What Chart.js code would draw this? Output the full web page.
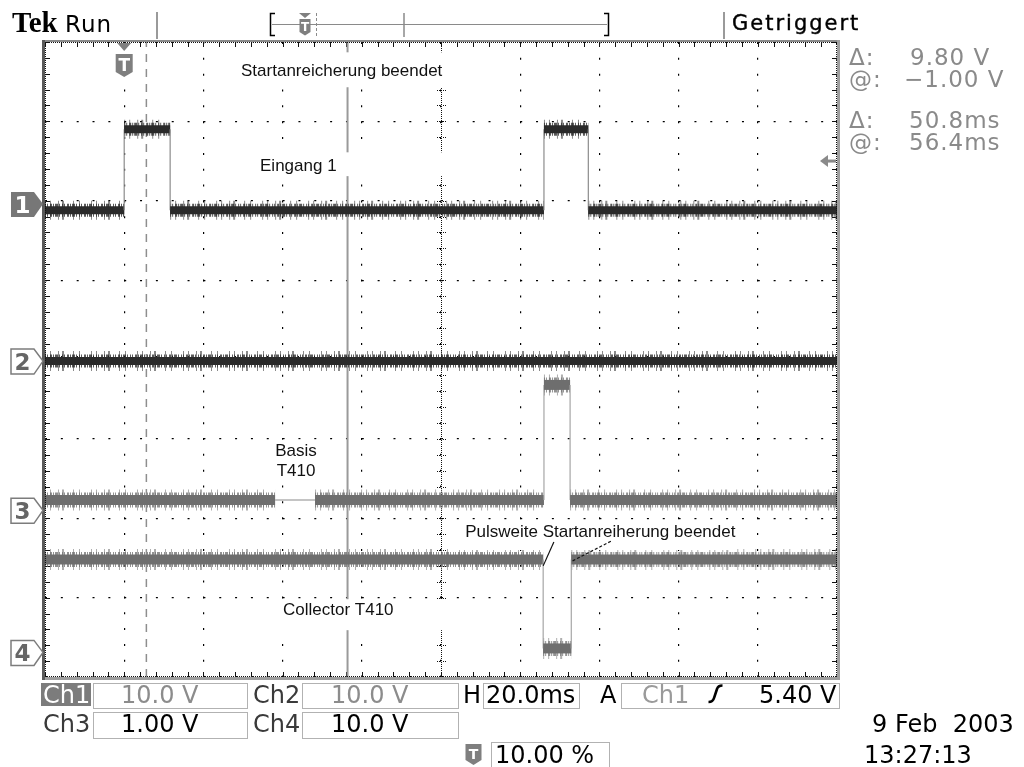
<!DOCTYPE html>
<html>
<head>
<meta charset="utf-8">
<title>Tek Run – Startanreicherung</title>
<script src="https://cdn.jsdelivr.net/npm/chart.js@4.4.1/dist/chart.umd.min.js"></script>
<style>
  html, body { margin: 0; padding: 0; background: #fff; }
  #wrap { position: relative; width: 1024px; height: 767px; overflow: hidden; background: #fff; }
  #scope, #panel { position: absolute; left: 0; top: 0; }
  #panel { pointer-events: none; }
  #panel text { white-space: pre; }
</style>
</head>
<body>
<div id="wrap">
  <canvas id="scope" width="1024" height="767"></canvas>
  <svg id="panel" width="1024" height="767" xmlns="http://www.w3.org/2000/svg">
    <!-- status line -->
    <text x="12" y="32" font-family="Liberation Serif" font-weight="bold" font-size="29" fill="#000">Tek</text>
    <text x="65" y="32" font-family="DejaVu Sans" font-size="23" letter-spacing="1" fill="#000">Run</text>
    <line x1="157" y1="12" x2="157" y2="39" stroke="#9a9a9a" stroke-width="2"/>
    <!-- record view -->
    <line x1="272" y1="24.5" x2="607" y2="24.5" stroke="#8a8a8a" stroke-width="1"/>
    <path d="M275 13.5 H270.5 V35.5 H275" fill="none" stroke="#000" stroke-width="1.5"/>
    <path d="M604 13.5 H608.5 V35.5 H604" fill="none" stroke="#000" stroke-width="1.5"/>
    <line x1="404" y1="13" x2="404" y2="37" stroke="#8a8a8a" stroke-width="1.5"/>
    <line x1="316.5" y1="13" x2="316.5" y2="36" stroke="#8a8a8a" stroke-width="1" stroke-dasharray="3,2"/>
    <path d="M299 13 H311 L305 18 Z" fill="#7f7f7f"/>
    <path d="M299.5 19 H310.5 V32 L305 35.5 L299.5 32 Z" fill="#7f7f7f"/>
    <text x="305" y="31" font-family="DejaVu Sans" font-weight="bold" font-size="12" text-anchor="middle" fill="#fff">T</text>
    <line x1="724" y1="12" x2="724" y2="39" stroke="#9a9a9a" stroke-width="2"/>
    <text x="732" y="30" font-family="DejaVu Sans" font-size="21" letter-spacing="2" fill="#000" stroke="#000" stroke-width="0.4">Getriggert</text>

    <!-- cursor readouts -->
    <g font-family="DejaVu Sans" font-size="23" letter-spacing="1" fill="#8a8a8a">
      <text x="849" y="65">Δ:</text><text x="910" y="65">9.80 V</text>
      <text x="849" y="87">@:</text><text x="904" y="87">−1.00 V</text>
      <text x="849" y="128">Δ:</text><text x="909" y="128">50.8ms</text>
      <text x="849" y="150">@:</text><text x="909" y="150">56.4ms</text>
    </g>

    <!-- channel / timebase settings -->
    <g fill="none" stroke="#b2b2b2" stroke-width="1">
      <rect x="93.5" y="683.5" width="154" height="25"/>
      <rect x="302.5" y="683.5" width="156" height="25"/>
      <rect x="483.5" y="683.5" width="96" height="25"/>
      <rect x="621.5" y="683.5" width="218" height="25"/>
      <rect x="93.5" y="712.5" width="154" height="26"/>
      <rect x="302.5" y="712.5" width="156" height="26"/>
      <rect x="491.5" y="742.5" width="118" height="26"/>
    </g>
    <rect x="41" y="683" width="50" height="23" fill="#7c7c7c"/>
    <g font-family="DejaVu Sans" font-size="24">
      <text x="43" y="703" fill="#fff">Ch1</text>
      <text x="121" y="703" fill="#8c8c8c">10.0 V</text>
      <text x="253" y="703" fill="#3a3a3a">Ch2</text>
      <text x="331" y="703" fill="#8c8c8c">10.0 V</text>
      <text x="463" y="703" fill="#000">H</text>
      <text x="486" y="703" fill="#000">20.0ms</text>
      <text x="600" y="703" fill="#000">A</text>
      <text x="642" y="703" fill="#9a9a9a">Ch1</text>
      <text x="759" y="703" fill="#000">5.40 V</text>
      <text x="43" y="732" fill="#3a3a3a">Ch3</text>
      <text x="121" y="732" fill="#000">1.00 V</text>
      <text x="253" y="732" fill="#3a3a3a">Ch4</text>
      <text x="331" y="732" fill="#000">10.0 V</text>
      <text x="495" y="763" fill="#000">10.00 %</text>
      <text x="872" y="732" fill="#000">9 Feb  2003</text>
      <text x="864" y="763" fill="#000">13:27:13</text>
    </g>
    <!-- rising-edge slope symbol -->
    <path d="M708.5 702 Q713 702 714 698 L717 689 Q718 685.5 722.5 685.5" fill="none" stroke="#000" stroke-width="2.6"/>
    <!-- trigger position icon -->
    <path d="M465.5 744 H481.5 V760 L473.5 765 L465.5 760 Z" fill="#7f7f7f"/>
    <text x="473.5" y="759" font-family="DejaVu Sans" font-weight="bold" font-size="14" text-anchor="middle" fill="#fff">T</text>
  </svg>
</div>

<script>
// Time base: 20 ms/div, 10 divisions, trigger at 10 % of the record
const timeRange = [-20, 180];          // ms
const divRange = [-4, 4];              // vertical divisions

// Channel settings
const channelNames = ['1', '2', '3', '4'];
const voltsPerDiv = [10, 10, 1, 10];   // V/div
const groundDiv = [1.96, -0.02, -1.90, -3.69]; // ground marker positions, div

// Ch1 – Eingang 1 (step trace, ms / V)
const ch1Time = [-20, 0.0, 0.0, 11.6, 11.6, 106.0, 106.0, 117.2, 117.2, 180];
const ch1Volt = [-0.8, -0.8, 9.4, 9.4, -0.8, -0.8, 9.4, 9.4, -0.8, -0.8];

// Ch2 – flat
const ch2Time = [-20, 180];
const ch2Volt = [0.0, 0.0];

// Ch3 – Basis T410
const ch3Time = [-20, 38.1, 48.2, 106.0, 106.0, 112.6, 112.6, 180];
const ch3Volt = [0.13, 0.13, 0.13, 0.13, 1.58, 1.58, 0.13, 0.13];
const ch3Quiet = [38.1, 48.2];         // stretch drawn without noise

// Ch4 – Collector T410
const ch4Time = [-20, 105.8, 105.8, 112.9, 112.9, 180];
const ch4Volt = [11.7, 11.7, 0.5, 0.5, 11.7, 11.7];

// Time cursors (ms) and trigger level (V on Ch1)
const cursorTimes = [5.6, 56.4];
const triggerLevel = 5.4;

// Trace inks: core band, fuzzy hairs, sparse spikes, thin edges
const traceInk = [
  { core: '#2a2a2a', fuzz: 'rgba(35,35,35,0.75)', spike: 'rgba(60,60,60,0.6)', edge: '#8c8c8c', wCore: 8, wFuzz: 13, wSpike: 19 },
  { core: '#2a2a2a', fuzz: 'rgba(35,35,35,0.75)', spike: 'rgba(60,60,60,0.6)', edge: '#8c8c8c', wCore: 8, wFuzz: 13, wSpike: 20 },
  { core: '#6e6e6e', fuzz: 'rgba(110,110,110,0.75)', spike: 'rgba(120,120,120,0.6)', edge: '#a6a6a6', wCore: 10, wFuzz: 15, wSpike: 21 },
  { core: '#6e6e6e', fuzz: 'rgba(110,110,110,0.75)', spike: 'rgba(120,120,120,0.6)', edge: '#a6a6a6', wCore: 10, wFuzz: 15, wSpike: 21 }
];
const fuzzDash = [1, 1, 1, 2, 2, 1, 1, 1, 3, 1, 1, 2];
const spikeDash = [1, 4, 1, 7, 1, 3, 2, 9, 1, 5, 1, 11];

function traceLayers(ch, times, volts, quietSpan) {
  const ink = traceInk[ch];
  const isEdge = c => c.p0.parsed.x === c.p1.parsed.x;
  const isQuiet = c => !!quietSpan && c.p0.parsed.x >= quietSpan[0] && c.p1.parsed.x <= quietSpan[1];
  const layers = [
    { color: ink.core, width: ink.wCore, dash: [], order: 0, edgeColor: ink.edge, quietColor: '#8a8a8a' },
    { color: ink.fuzz, width: ink.wFuzz, dash: fuzzDash, order: 1, edgeColor: 'transparent', quietColor: 'transparent' },
    { color: ink.spike, width: ink.wSpike, dash: spikeDash, order: 2, edgeColor: 'transparent', quietColor: 'transparent' }
  ];
  return layers.map(L => ({
    label: 'Ch' + channelNames[ch],
    data: times.map((t, i) => ({ x: t, y: volts[i] / voltsPerDiv[ch] + groundDiv[ch] })),
    order: L.order,
    borderColor: L.color,
    borderWidth: L.width,
    borderDash: L.dash,
    pointRadius: 0,
    fill: false,
    segment: {
      borderColor: c => isEdge(c) ? L.edgeColor : (isQuiet(c) ? L.quietColor : L.color),
      borderWidth: c => (isEdge(c) || isQuiet(c)) ? 1.2 : L.width,
      borderDash: c => (isEdge(c) || isQuiet(c)) ? [] : L.dash
    }
  }));
}

const datasets = [
  ...traceLayers(0, ch1Time, ch1Volt),
  ...traceLayers(1, ch2Time, ch2Volt),
  ...traceLayers(2, ch3Time, ch3Volt, ch3Quiet),
  ...traceLayers(3, ch4Time, ch4Volt),
  { label: 'Cursor 1', data: [{ x: cursorTimes[0], y: divRange[0] }, { x: cursorTimes[0], y: divRange[1] }],
    borderColor: '#8e8e8e', borderWidth: 1.5, borderDash: [8, 7], pointRadius: 0, order: 3 },
  { label: 'Cursor 2', data: [{ x: cursorTimes[1], y: divRange[0] }, { x: cursorTimes[1], y: divRange[1] }],
    borderColor: '#9a9a9a', borderWidth: 2, pointRadius: 0, order: 3 }
];

// Screen annotations, placed in (ms, div) coordinates
const notes = [
  { lines: ['Startanreicherung beendet'], at: [29.5, 3.57], align: 'left', box: [27.2, 81.5, 3.87, 3.43] },
  { lines: ['Eingang 1'], at: [34.3, 2.37], align: 'left', box: [31.8, 81.5, 2.61, 2.31] },
  { lines: ['Basis', 'T410'], at: [43.4, -1.216], align: 'center', box: [36.8, 49.9, -1.01, -1.53] },
  { lines: ['Collector T410'], at: [40.1, -3.22], align: 'left', box: [38.3, 81.5, -3.02, -3.41] },
  { lines: ['Pulsweite Startanreiherung beendet'], at: [86.1, -2.236], align: 'left', box: [84.3, 154.5, -2.02, -2.40] }
];
const leaders = [
  { from: [108.5, -2.30], to: [105.8, -2.60], dash: [] },
  { from: [122.9, -2.29], to: [113.1, -2.54], dash: [3, 2] }
];

// Graticule extras: centre axes with minor ticks, border ticks
const scopeGraticule = {
  id: 'scopeGraticule',
  beforeDatasetsDraw(chart) {
    const { ctx, chartArea: a, scales: { x, y } } = chart;
    const cx = Math.round(x.getPixelForValue((timeRange[0] + timeRange[1]) / 2));
    const cy = Math.round(y.getPixelForValue(0));
    ctx.save();
    ctx.fillStyle = '#111';
    for (let py = Math.ceil(a.top); py < a.bottom; py += 2) ctx.fillRect(cx, py, 1, 1);
    for (let px = Math.ceil(a.left); px < a.right; px += 2) ctx.fillRect(px, cy, 1, 1);
    for (let i = 0; i <= 50; i++) {
      const px = Math.round(x.getPixelForValue(timeRange[0] + i * 4));
      for (const o of [-4, -2, 2, 4]) ctx.fillRect(px, cy + o, 1, 1);
      ctx.fillRect(px, Math.round(a.top), 1, 5);
      ctx.fillRect(px, Math.round(a.bottom) - 5, 1, 5);
    }
    for (let i = 0; i <= 40; i++) {
      const py = Math.round(y.getPixelForValue(divRange[0] + i * 0.2));
      for (const o of [-4, -2, 2, 4]) ctx.fillRect(cx + o, py, 1, 1);
      ctx.fillRect(Math.round(a.left), py, 5, 1);
      ctx.fillRect(Math.round(a.right) - 5, py, 5, 1);
    }
    ctx.restore();
  }
};

function drawTIcon(ctx, cx, top) {
  ctx.fillStyle = '#7f7f7f';
  ctx.beginPath();
  ctx.moveTo(cx - 7, top); ctx.lineTo(cx + 7, top); ctx.lineTo(cx, top + 8);
  ctx.closePath(); ctx.fill();
  ctx.beginPath();
  ctx.moveTo(cx - 8.5, top + 11); ctx.lineTo(cx + 8.5, top + 11);
  ctx.lineTo(cx + 8.5, top + 29); ctx.lineTo(cx, top + 34); ctx.lineTo(cx - 8.5, top + 29);
  ctx.closePath(); ctx.fill();
  ctx.fillStyle = '#fff';
  ctx.font = 'bold 17px "DejaVu Sans"';
  ctx.textAlign = 'center';
  ctx.textBaseline = 'alphabetic';
  ctx.fillText('T', cx, top + 28);
}

// Labels, frame and screen markers
const scopeOverlay = {
  id: 'scopeOverlay',
  afterDatasetsDraw(chart) {
    const { ctx, chartArea: a, scales: { x, y } } = chart;
    ctx.save();

    // annotations with white backing
    ctx.font = '17px "Liberation Sans"';
    ctx.textBaseline = 'alphabetic';
    for (const n of notes) {
      const bx0 = x.getPixelForValue(n.box[0]), bx1 = x.getPixelForValue(n.box[1]);
      const by0 = y.getPixelForValue(n.box[2]), by1 = y.getPixelForValue(n.box[3]);
      ctx.fillStyle = '#fff';
      ctx.fillRect(bx0, by0, bx1 - bx0, by1 - by0);
      ctx.fillStyle = '#111';
      ctx.textAlign = n.align;
      const tx = x.getPixelForValue(n.at[0]);
      const ty = y.getPixelForValue(n.at[1]);
      n.lines.forEach((s, i) => ctx.fillText(s, tx, ty + i * 20));
    }
    ctx.strokeStyle = '#111';
    ctx.lineWidth = 1.2;
    for (const l of leaders) {
      ctx.setLineDash(l.dash);
      ctx.beginPath();
      ctx.moveTo(x.getPixelForValue(l.from[0]), y.getPixelForValue(l.from[1]));
      ctx.lineTo(x.getPixelForValue(l.to[0]), y.getPixelForValue(l.to[1]));
      ctx.stroke();
    }
    ctx.setLineDash([]);

    // frame
    const L = Math.round(a.left), R = Math.round(a.right), T = Math.round(a.top), B = Math.round(a.bottom);
    ctx.fillStyle = '#8a8a8a';
    ctx.fillRect(L - 3, T - 2, R - L + 6, 2);
    ctx.fillStyle = '#9e9e9e';
    ctx.fillRect(R, T - 2, 3, B - T + 5);
    ctx.fillRect(L - 3, B, R - L + 6, 3);
    ctx.fillStyle = '#5a5a5a';
    ctx.fillRect(L - 3, T - 2, 3, B - T + 5);
    ctx.fillStyle = '#111';
    for (let px = L; px < R; px += 2) { ctx.fillRect(px, T, 1, 1); ctx.fillRect(px, B - 1, 1, 1); }
    for (let py = T; py < B; py += 2) { ctx.fillRect(L, py, 1, 1); ctx.fillRect(R - 1, py, 1, 1); }

    // channel ground markers
    ctx.font = 'bold 23px "DejaVu Sans"';
    ctx.textAlign = 'center';
    groundDiv.forEach((g, i) => {
      const ty = y.getPixelForValue(g);
      const tip = L - 2;
      ctx.beginPath();
      ctx.moveTo(11, ty - 12); ctx.lineTo(tip - 9, ty - 12); ctx.lineTo(tip, ty);
      ctx.lineTo(tip - 9, ty + 13); ctx.lineTo(11, ty + 13); ctx.closePath();
      if (i === 0) {
        ctx.fillStyle = '#777'; ctx.fill();
        ctx.fillStyle = '#fff';
      } else {
        ctx.fillStyle = '#fff'; ctx.fill();
        ctx.strokeStyle = '#7c7c7c'; ctx.lineWidth = 1.5; ctx.stroke();
        ctx.fillStyle = '#666';
      }
      ctx.fillText(channelNames[i], 22.5, ty + 9);
    });

    // trigger position marker
    drawTIcon(ctx, x.getPixelForValue(0), T + 1);

    // trigger level arrow (Ch1)
    const ly = y.getPixelForValue(groundDiv[0] + triggerLevel / voltsPerDiv[0]);
    ctx.fillStyle = '#8a8a8a';
    ctx.beginPath();
    ctx.moveTo(R - 17, ly); ctx.lineTo(R - 9, ly - 6); ctx.lineTo(R - 9, ly + 6); ctx.closePath(); ctx.fill();
    ctx.fillRect(R - 9, ly - 1.5, 8, 3);

    ctx.restore();
  }
};

new Chart(document.getElementById('scope'), {
  type: 'line',
  data: { datasets },
  options: {
    responsive: false,
    animation: false,
    events: [],
    layout: { padding: { left: 45, right: 187, top: 42, bottom: 90 } },
    plugins: { legend: { display: false }, tooltip: { enabled: false } },
    elements: { point: { radius: 0 }, line: { tension: 0 } },
    scales: {
      x: {
        type: 'linear', min: timeRange[0], max: timeRange[1],
        ticks: { display: false, stepSize: 20 },
        grid: { color: '#000', lineWidth: 1.2, drawTicks: false },
        border: { display: false, dash: [2, 13.84] }
      },
      y: {
        type: 'linear', min: divRange[0], max: divRange[1],
        ticks: { display: false, stepSize: 1 },
        grid: { color: '#000', lineWidth: 1.2, drawTicks: false },
        border: { display: false, dash: [2, 13.84] }
      }
    }
  },
  plugins: [scopeGraticule, scopeOverlay]
});
</script>
</body>
</html>
